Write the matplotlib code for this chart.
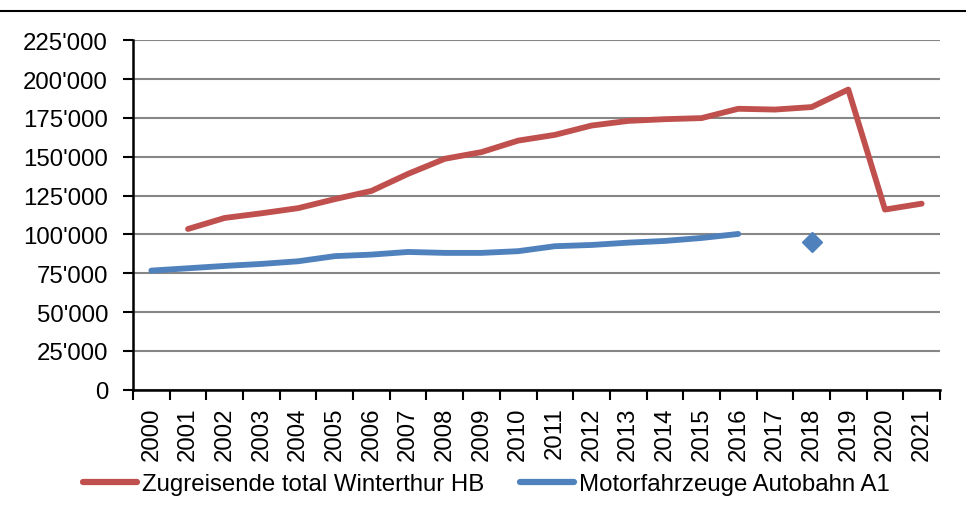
import numpy as np
import matplotlib
matplotlib.use("Agg")
import matplotlib.pyplot as plt
from matplotlib.ticker import FuncFormatter, MultipleLocator, FixedLocator
from matplotlib.lines import Line2D

plt.rcParams['font.family'] = ['Liberation Sans', 'DejaVu Sans']

# data
years = ['2000', '2001', '2002', '2003', '2004', '2005', '2006', '2007',
         '2008', '2009', '2010', '2011', '2012', '2013', '2014', '2015',
         '2016', '2017', '2018', '2019', '2020', '2021']
zugreisende = [np.nan, 103500, 110600, 113600, 116900, 122700, 128000, 139000,
               148700, 153000, 160400, 164100, 170100, 173100, 174200, 174900,
               180900, 180400, 182000, 193300, 116000, 119800]
motorfahrzeuge = [76700, 78200, 79700, 81000, 82700, 86000, 87000, 88700,
                  88100, 88100, 89200, 92400, 93200, 94700, 95800, 97700,
                  100300, np.nan, 95400, np.nan, np.nan, np.nan]

RED = '#c0504d'
BLUE = '#4f81bd'
FS = 17.3

W, H = 966, 510
fig = plt.figure(figsize=(W / 100, H / 100), dpi=100)
ax = fig.add_axes([133 / W, 1 - 390.7 / H, (940 - 133) / W, (390.7 - 41.3) / H])

x = np.arange(len(years))
mf = np.array(motorfahrzeuge, dtype=float)

ax.plot(x, zugreisende, color=RED, lw=4.2, solid_capstyle='round', solid_joinstyle='round')
ax.plot(x[:17], mf[:17], color=BLUE, lw=4.2, solid_capstyle='round', solid_joinstyle='round')
# isolated value (2018) drawn as a marker
ax.plot(x[18:19], mf[18:19], linestyle='none', marker='D', color=BLUE, markersize=10)

ax.set_xlim(-0.5, len(years) - 0.5)
ax.set_ylim(0, 225000)
ax.yaxis.set_major_locator(MultipleLocator(25000))
ax.yaxis.set_major_formatter(FuncFormatter(lambda v, p: f"{int(v):,}".replace(',', "'")))

ax.set_xticks(x)
ax.set_xticklabels(years, rotation=90, fontsize=FS)
ax.xaxis.set_minor_locator(FixedLocator(np.arange(-0.5, len(years), 1)))
ax.tick_params(axis='x', which='major', length=0, pad=12)
ax.tick_params(axis='x', which='minor', length=7, width=1.5, direction='out')
ax.tick_params(axis='y', length=7, width=1.5, labelsize=FS, pad=11)

ax.grid(axis='y', color='#868686', lw=1.5)
ax.set_axisbelow(True)
for s in ['top', 'right']:
    ax.spines[s].set_visible(False)
ax.spines['left'].set_linewidth(1.8)
ax.spines['bottom'].set_linewidth(1.8)

# top border line
fig.add_artist(Line2D([0, 1], [1 - 12 / H, 1 - 12 / H], color='black', lw=1.5,
                      transform=fig.transFigure))

handles = [Line2D([], [], color=RED, lw=4.5, solid_capstyle='round'),
           Line2D([], [], color=BLUE, lw=4.5, solid_capstyle='round')]
fig.legend(handles, ['Zugreisende total Winterthur HB', 'Motorfahrzeuge Autobahn A1'],
           loc='center left', bbox_to_anchor=(83 / W, 1 - 485 / H), ncol=2,
           frameon=False, fontsize=FS, handlelength=2.25, handletextpad=0.2,
           columnspacing=1.5, borderpad=0, borderaxespad=0)

fig.savefig('out.png', dpi=100)
